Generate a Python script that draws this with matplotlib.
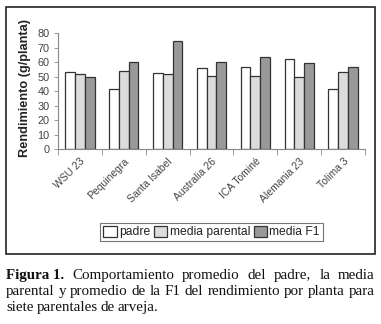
import numpy as np
import matplotlib.pyplot as plt
from matplotlib.patches import Rectangle

# Rendimiento promedio (g/planta) por parental
parentales = ["WSU 23", "Pequinegra", "Santa Isabel", "Australia 26",
              "ICA Tominé", "Alemania 23", "Tolima 3"]
padre = [53.1, 41.4, 52.3, 56.3, 56.5, 62.0, 41.8]
media_parental = [51.6, 53.7, 52.0, 50.8, 50.8, 50.1, 53.6]
media_f1 = [49.6, 60.0, 75.0, 60.0, 63.8, 59.3, 56.5]

series = ["padre", "media parental", "media F1"]
colores = ["white", "#dcdcdc", "#999999"]

fig = plt.figure(figsize=(3.81, 3.24), dpi=100)
plt.rcParams["font.family"] = ["Liberation Sans", "DejaVu Sans"]

# marco exterior del gráfico
fig.patches.append(Rectangle((6 / 381, 1 - 254 / 324), 369 / 381, 247 / 324,
                             transform=fig.transFigure, fill=False,
                             edgecolor="#222222", linewidth=1.2))

ax = fig.add_axes([58 / 381, 1 - 149.3 / 324, 307 / 381, 116 / 324])

x = np.arange(len(parentales))
w = 0.223
for i, (vals, col, lab) in enumerate(zip([padre, media_parental, media_f1], colores, series)):
    ax.bar(x + (i - 1) * w, vals, width=w, color=col, edgecolor="#333333",
           linewidth=0.9, label=lab)

ax.set_xlim(-0.5, len(parentales) - 0.5)
ax.set_ylim(0, 80)
ax.set_yticks(range(0, 81, 10))
ax.tick_params(axis="y", labelsize=7.8, colors="#888888", labelcolor="#444444",
               length=3, width=0.6, pad=3)
ax.set_xticks(x)
ax.set_xticklabels(parentales, rotation=45, ha="right", rotation_mode="anchor",
                   fontsize=7.5, color="#444444")
ax.tick_params(axis="x", length=0, pad=5)
ax.set_xticks(np.arange(-0.5, len(parentales), 1), minor=True)
ax.tick_params(axis="x", which="minor", length=4, width=0.6, colors="#888888")
for s in ["top", "right"]:
    ax.spines[s].set_visible(False)
for s in ["left", "bottom"]:
    ax.spines[s].set_color("#888888")
    ax.spines[s].set_linewidth(0.8)

ax.set_ylabel("Rendimiento (g/planta)", fontsize=9.2, fontweight="bold",
              color="#222222")
ax.yaxis.set_label_coords(-0.088, 0.53)

leg = fig.legend(loc="center", bbox_to_anchor=(211.5 / 381, 1 - 232 / 324),
                 ncol=3, fontsize=8.7, frameon=True, fancybox=False,
                 handlelength=1.1, handleheight=1.1, handletextpad=0.2,
                 columnspacing=0.3, borderpad=0.25)
leg.get_frame().set_edgecolor("#555555")
leg.get_frame().set_linewidth(0.8)
for t in leg.get_texts():
    t.set_color("#222222")

# pie de figura justificado
fig.canvas.draw()
r = fig.canvas.get_renderer()
left, right = 6, 375
lineas = [
    [("Figura 1.", "bold")] + [(p, "normal") for p in
                                "Comportamiento promedio del padre, la media".split()],
    [(p, "normal") for p in
     "parental y promedio de la F1 del rendimiento por planta para".split()],
    [(p, "normal") for p in "siete parentales de arveja.".split()],
]
bases = [279, 295, 311]
for k, (linea, yb) in enumerate(zip(lineas, bases)):
    textos = []
    for palabra, peso in linea:
        t = fig.text(0, 1 - yb / 324, palabra, fontsize=10.8, fontweight=peso,
                     family=["Liberation Serif", "DejaVu Serif"],
                     va="baseline", ha="left", color="#111111")
        textos.append(t)
    anchos = [t.get_window_extent(r).width for t in textos]
    if k < len(lineas) - 1:
        hueco = max(2.0, (right - left - sum(anchos)) / (len(textos) - 1))
    else:
        hueco = 3.0
    pos = left
    for t, a in zip(textos, anchos):
        t.set_x(pos / 381)
        pos += a + hueco

fig.savefig("out.png", dpi=100)
